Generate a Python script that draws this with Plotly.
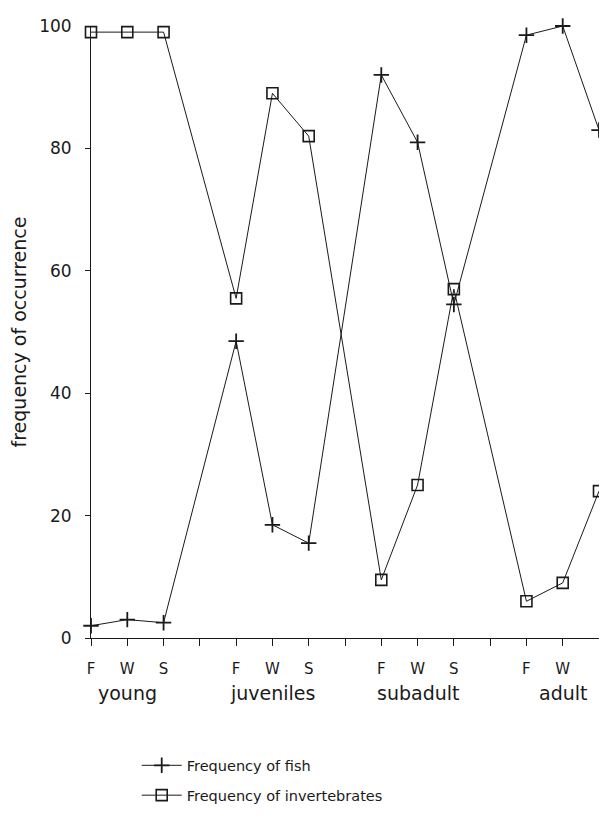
import plotly.graph_objects as go

stages = ["young", "juveniles", "subadult", "adult"]
seasons = ["F", "W", "S"]

fish = [2, 3, 2.5, 48.5, 18.5, 15.5, 92, 81, 54.5, 98.5, 100, 83]
invertebrates = [99, 99, 99, 55.5, 89, 82, 9.5, 25, 57, 6, 9, 24]

y_ticks = [0, 20, 40, 60, 80, 100]

# each stage takes 3 season slots plus one empty slot
slot = len(seasons) + 1
x_pos = [i * slot + j for i in range(len(stages)) for j in range(len(seasons))]
tick_pos = list(range(len(stages) * slot - 1))
tick_text = [(seasons + [""])[p % slot] for p in tick_pos]

font = "DejaVu Sans"
ink = "#1a1a1a"

fig = go.Figure()

fig.add_trace(
    go.Scatter(
        x=x_pos,
        y=fish,
        mode="lines+markers",
        name="Frequency of fish",
        line=dict(color=ink, width=1),
        marker=dict(symbol="cross-thin", size=11, line=dict(color=ink, width=1.8)),
        cliponaxis=False,
        legendgroup="fish",
    )
)

fig.add_trace(
    go.Scatter(
        x=x_pos,
        y=invertebrates,
        mode="lines+markers",
        name="Frequency of invertebrates",
        line=dict(color=ink, width=1),
        marker=dict(symbol="square-open", size=11, color=ink, line=dict(color=ink, width=1.6)),
        cliponaxis=False,
        legendgroup="inv",
    )
)

for i, stage in enumerate(stages):
    fig.add_annotation(
        x=i * slot + 1,
        y=-0.09,
        xref="x",
        yref="paper",
        yanchor="middle",
        text=stage,
        showarrow=False,
        font=dict(family=font, size=19, color=ink),
    )

fig.update_layout(
    width=591,
    height=808,
    paper_bgcolor="white",
    plot_bgcolor="white",
    margin=dict(l=83, r=0, t=18, b=178),
    font=dict(family=font, color=ink),
    showlegend=True,
    legend=dict(
        x=0.09,
        y=-0.182,
        xanchor="left",
        yanchor="top",
        font=dict(family=font, size=14.5, color=ink),
        traceorder="grouped",
        tracegroupgap=8,
        itemwidth=40,
        bgcolor="rgba(0,0,0,0)",
    ),
    xaxis=dict(
        range=[0, 14.0],
        tickmode="array",
        tickvals=tick_pos,
        ticktext=tick_text,
        ticks="outside",
        ticklen=7,
        tickcolor=ink,
        ticklabelstandoff=10,
        tickfont=dict(family=font, size=15, color=ink),
        showline=True,
        linecolor=ink,
        linewidth=1,
        showgrid=False,
        zeroline=False,
    ),
    yaxis=dict(
        range=[0, 100],
        tickvals=y_ticks,
        ticks="outside",
        ticklen=5,
        tickcolor=ink,
        ticklabelstandoff=10,
        tickfont=dict(family=font, size=17, color=ink),
        showline=True,
        linecolor=ink,
        linewidth=1,
        showgrid=False,
        zeroline=False,
        title=dict(text="frequency of occurrence", font=dict(family=font, size=19, color=ink), standoff=18),
    ),
)

fig.write_html("out.html")
